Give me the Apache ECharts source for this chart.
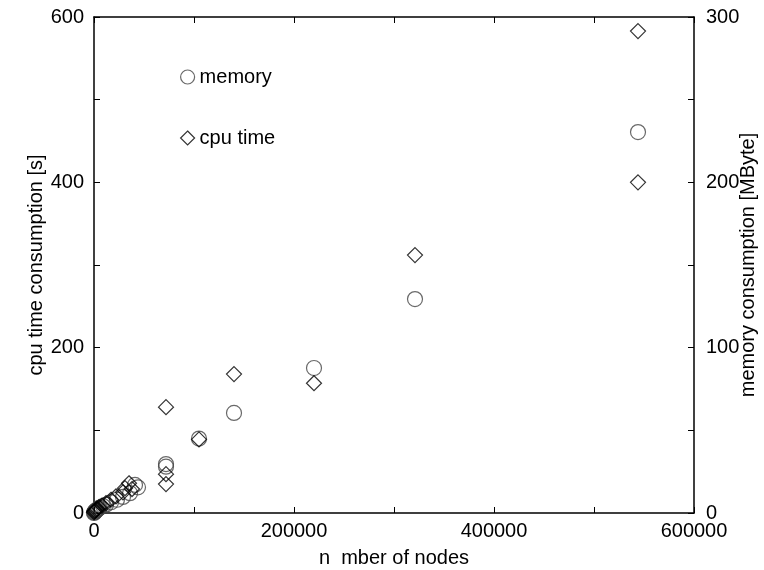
<!DOCTYPE html>
<html>
<head>
<meta charset="utf-8">
<script src="https://cdn.jsdelivr.net/npm/echarts@6/dist/echarts.min.js"></script>
<style>
  html, body { margin: 0; padding: 0; background: #fff; }
  #main { width: 764px; height: 570px; }
</style>
</head>
<body>
<div id="main"></div>
<script>
// number of nodes / cpu time [s]
var cpuNodes = [0, 500, 1000, 2000, 3000, 5000, 8000, 12000, 17000, 22000, 29000, 31000, 35000, 38000,
                72000, 72000, 72000, 105000, 140000, 220000, 321000, 544000, 544000];
var cpuTime  = [1, 2, 3, 4, 5, 7, 9, 12, 16, 20, 25, 30, 36, 29,
                128, 47, 35, 89, 168, 157, 312, 583, 400];

// number of nodes / memory [MByte]
var memNodes = [0, 300, 600, 1000, 1500, 2000, 2500, 3000, 4000, 5000, 6000, 9000, 12000, 17000, 23000,
                29000, 36000, 41000, 44000, 72000, 72000, 105000, 140000, 220000, 321000, 544000];
var memUsage = [0, 0.3, 0.6, 0.9, 1.2, 1.5, 1.8, 2, 2.5, 3, 3.3, 4.2, 5, 6.5, 8,
                9.7, 12, 17, 15.5, 29.6, 28, 45, 60.5, 87.7, 129.4, 230.4];

var xTicks = [0, 200000, 400000, 600000];
var cpuTicks = [0, 200, 400, 600];
var memTicks = [0, 100, 200, 300];

function pairs(xs, ys) {
    return xs.map(function (x, i) { return [x, ys[i]]; });
}

var font = 'Liberation Sans, Arial, sans-serif';
var chart = echarts.init(document.getElementById('main'));

var option = {
    backgroundColor: '#fff',
    animation: false,
    textStyle: { fontFamily: font },
    grid: { left: 94, right: 70, top: 17, bottom: 57, outerBoundsMode: 'none', containLabel: false },
    legend: {
        orient: 'vertical',
        left: 175,
        top: 62,
        itemWidth: 14,
        itemHeight: 14,
        itemGap: 41,
        itemStyle: { borderWidth: 1.2 },
        textStyle: { fontFamily: font, fontSize: 20, color: '#000' },
        data: ['memory', 'cpu time']
    },
    xAxis: [
        {
            type: 'value', min: 0, max: 600000, interval: 100000,
            name: 'n  mber of nodes', nameLocation: 'middle', nameGap: 35,
            nameTextStyle: { fontSize: 20, color: '#000', fontFamily: font },
            axisLine: { onZero: false, lineStyle: { color: '#000', width: 1.5 } },
            axisTick: { inside: true, length: 6, lineStyle: { color: '#000' } },
            axisLabel: {
                fontSize: 20, color: '#000', margin: 8,
                formatter: function (v) { return xTicks.indexOf(v) >= 0 ? String(v) : ''; }
            },
            splitLine: { show: false }
        },
        {
            type: 'value', position: 'top', min: 0, max: 600000, interval: 100000,
            axisLine: { onZero: false, lineStyle: { color: '#000', width: 1.5 } },
            axisTick: { inside: true, length: 6, lineStyle: { color: '#000' } },
            axisLabel: { show: false },
            splitLine: { show: false }
        }
    ],
    yAxis: [
        {
            type: 'value', min: 0, max: 600, interval: 100,
            name: 'cpu time consumption [s]', nameLocation: 'middle', nameGap: 48,
            nameMoveOverlap: false,
            nameTextStyle: { fontSize: 20, color: '#000', fontFamily: font },
            axisLine: { show: true, onZero: false, lineStyle: { color: '#000', width: 1.5 } },
            axisTick: { show: true, inside: true, length: 6, lineStyle: { color: '#000' } },
            axisLabel: {
                fontSize: 20, color: '#000', margin: 10,
                formatter: function (v) { return cpuTicks.indexOf(v) >= 0 ? String(v) : ''; }
            },
            splitLine: { show: false }
        },
        {
            type: 'value', position: 'right', min: 0, max: 300, interval: 50,
            name: 'memory consumption [MByte]', nameLocation: 'middle', nameGap: 44,
            nameMoveOverlap: false,
            nameTextStyle: { fontSize: 20, color: '#000', fontFamily: font },
            axisLine: { show: true, onZero: false, lineStyle: { color: '#000', width: 1.5 } },
            axisTick: { show: true, inside: true, length: 6, lineStyle: { color: '#000' } },
            axisLabel: {
                fontSize: 20, color: '#000', margin: 12,
                formatter: function (v) { return memTicks.indexOf(v) >= 0 ? String(v) : ''; }
            },
            splitLine: { show: false }
        }
    ],
    series: [
        {
            name: 'memory',
            type: 'scatter',
            yAxisIndex: 1,
            clip: false,
            symbol: 'circle',
            symbolSize: 15,
            itemStyle: { color: 'rgba(255,255,255,0)', borderColor: '#444', borderWidth: 1.2 },
            data: pairs(memNodes, memUsage)
        },
        {
            name: 'cpu time',
            type: 'scatter',
            yAxisIndex: 0,
            clip: false,
            symbol: 'diamond',
            symbolSize: 15,
            itemStyle: { color: 'rgba(255,255,255,0)', borderColor: '#000', borderWidth: 1.2 },
            data: pairs(cpuNodes, cpuTime)
        }
    ]
};

chart.setOption(option);
</script>
</body>
</html>
